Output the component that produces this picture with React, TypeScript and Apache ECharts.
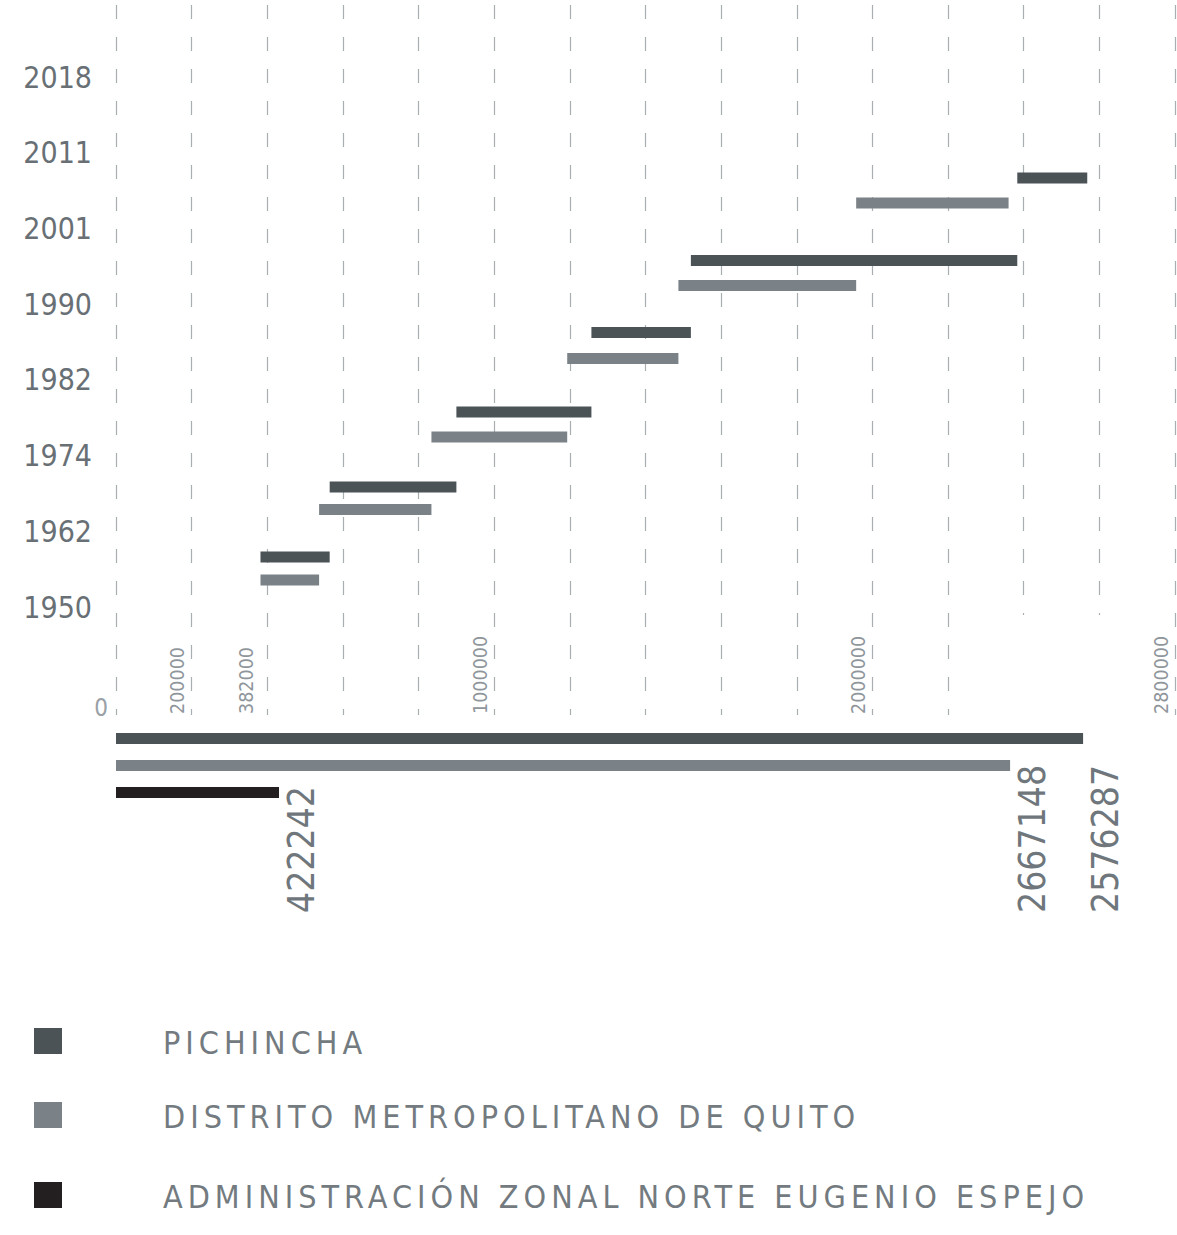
import React, { useEffect, useRef } from 'react';
import * as echarts from 'echarts';

// ---------- data ----------
const YEAR_LABELS = ['1950', '1962', '1974', '1982', '1990', '2001', '2011', '2018'];

// population boundaries of the census intervals
const PICHINCHA_POP = [382000, 565000, 900000, 1257000, 1520000, 2383000, 2568000];
const QUITO_POP = [382000, 537000, 834000, 1193000, 1487000, 1957000, 2360000];

// vertical position of each interval bar on the year-index axis
const PICHINCHA_ROW = [0.66, 1.585, 2.576, 3.626, 4.577, 5.666];
const QUITO_ROW = [0.357, 1.288, 2.245, 3.282, 4.246, 5.336];

const X_MAX = 2800000;
const X_STEP = 200000;
const TICK_LABEL_VALUES = [0, 200000, 382000, 1000000, 2000000, 2800000];

const TOTAL_NAMES = [
  'PICHINCHA',
  'DISTRITO METROPOLITANO DE QUITO',
  'ADMINISTRACIÓN ZONAL NORTE EUGENIO ESPEJO',
];
const TOTAL_VALUES = [2557000, 2364000, 431000];
const TOTAL_LABELS = ['2576287', '2667148', '422242'];

// ---------- style ----------
const COLORS = ['#4b5357', '#7b8287', '#231f20'];
const FONT = '"DejaVu Sans", sans-serif';
const LEGEND_FONT = '"LegendTrack", ' + FONT;
const LEGEND_Y = [1041, 1115, 1195];
const GRID_LEFT = 116;
const GRID_WIDTH = 1059;

const CSS = `
body { margin: 0; }
svg text { font-stretch: condensed; }
svg text[style*="LegendTrack"] { letter-spacing: 5px; }
`;

function dashedColors(keep: (i: number) => boolean) {
  const n = Math.round(X_MAX / X_STEP) + 1;
  const arr: string[] = [];
  for (let i = 0; i < n; i++) arr.push(keep(i) ? '#a9aeb2' : 'rgba(0,0,0,0)');
  return arr;
}

export default function App() {
  const ref = useRef<HTMLDivElement>(null);

  useEffect(() => {
    if (!ref.current) return;
    const chart = echarts.init(ref.current, undefined, { renderer: 'svg' });

    const hiddenX = (gridIndex: number) => ({
      gridIndex,
      type: 'value',
      min: 0,
      max: X_MAX,
      interval: X_STEP,
      show: false,
    });

    const dashedX = (gridIndex: number, keep: (i: number) => boolean) => ({
      gridIndex,
      type: 'value',
      min: 0,
      max: X_MAX,
      interval: X_STEP,
      axisLine: { show: false },
      axisTick: { show: false },
      axisLabel: { show: false },
      splitLine: {
        show: true,
        lineStyle: { color: dashedColors(keep), width: 1.2, type: [14, 18] },
      },
    });

    const rangeSeries = (name: string, pop: number[], rows: number[], color: string) => ({
      name,
      type: 'custom',
      xAxisIndex: 0,
      yAxisIndex: 0,
      encode: { x: [0, 1], y: 2 },
      data: rows.map((r, i) => [pop[i], pop[i + 1], r]),
      renderItem: (params: any, api: any) => {
        const a = api.coord([api.value(0), api.value(2)]);
        const b = api.coord([api.value(1), api.value(2)]);
        return {
          type: 'rect',
          shape: { x: a[0], y: a[1] - 5.5, width: b[0] - a[0], height: 11 },
          style: { fill: color },
        };
      },
    });

    const option: any = {
      animation: false,
      backgroundColor: '#ffffff',
      grid: [
        { left: GRID_LEFT, top: 77, width: GRID_WIDTH, height: 530 },
        { left: GRID_LEFT, top: 5, width: GRID_WIDTH, height: 710 },
        { left: GRID_LEFT, top: 5, width: GRID_WIDTH, height: 610 },
        { left: GRID_LEFT, top: 615, width: GRID_WIDTH, height: 100 },
        { left: GRID_LEFT, top: 725, width: GRID_WIDTH, height: 81 },
      ],
      xAxis: [
        hiddenX(0),
        dashedX(1, (i) => i !== 12 && i !== 13),
        dashedX(2, (i) => i === 12 || i === 13),
        hiddenX(3),
        hiddenX(4),
      ],
      yAxis: [
        {
          gridIndex: 0,
          type: 'value',
          min: 0,
          max: YEAR_LABELS.length - 1,
          interval: 1,
          axisLine: { show: false },
          axisTick: { show: false },
          splitLine: { show: false },
          axisLabel: {
            formatter: (v: number) => YEAR_LABELS[v] ?? '',
            fontSize: 30,
            color: '#687075',
            fontFamily: FONT,
            margin: 24,
          },
        },
        { gridIndex: 1, type: 'value', show: false },
        { gridIndex: 2, type: 'value', show: false },
        { gridIndex: 3, type: 'value', min: 0, max: 1, show: false },
        {
          gridIndex: 4,
          type: 'category',
          inverse: true,
          data: TOTAL_NAMES,
          show: false,
        },
      ],
      series: [
        rangeSeries(TOTAL_NAMES[0], PICHINCHA_POP, PICHINCHA_ROW, COLORS[0]),
        rangeSeries(TOTAL_NAMES[1], QUITO_POP, QUITO_ROW, COLORS[1]),
        {
          name: 'ticks',
          type: 'custom',
          xAxisIndex: 3,
          yAxisIndex: 3,
          data: TICK_LABEL_VALUES.map((v) => [v, 0]),
          renderItem: (params: any, api: any) => {
            const v = api.value(0);
            const p = api.coord([v, 0]);
            if (v === 0) {
              return {
                type: 'text',
                x: p[0] - 8,
                y: p[1] - 7,
                style: {
                  text: String(v),
                  align: 'right',
                  verticalAlign: 'middle',
                  fontSize: 24,
                  fill: '#9aa1a6',
                  fontFamily: FONT,
                },
              };
            }
            return {
              type: 'text',
              x: p[0] - 14,
              y: p[1] - 1,
              rotation: Math.PI / 2,
              style: {
                text: String(v),
                align: 'left',
                verticalAlign: 'middle',
                fontSize: 19.5,
                fill: '#8f969b',
                fontFamily: FONT,
              },
            };
          },
        },
        {
          name: 'totals',
          type: 'custom',
          xAxisIndex: 4,
          yAxisIndex: 4,
          data: TOTAL_VALUES.map((v, i) => [v, i]),
          renderItem: (params: any, api: any) => {
            const i = params.dataIndex;
            const s = api.coord([0, i]);
            const e = api.coord([api.value(0), i]);
            return {
              type: 'group',
              children: [
                {
                  type: 'rect',
                  shape: { x: s[0], y: s[1] - 5.5, width: e[0] - s[0], height: 11 },
                  style: { fill: COLORS[i] },
                },
                {
                  type: 'text',
                  x: e[0] + 22,
                  y: 913,
                  rotation: Math.PI / 2,
                  style: {
                    text: TOTAL_LABELS[i],
                    align: 'left',
                    verticalAlign: 'middle',
                    fontSize: 37,
                    fill: '#6f777c',
                    fontFamily: FONT,
                  },
                },
              ],
            };
          },
        },
      ],
      graphic: TOTAL_NAMES.map((name, i) => ({
        type: 'group',
        children: [
          {
            type: 'rect',
            shape: { x: 34, y: LEGEND_Y[i] - 13, width: 28, height: 26 },
            style: { fill: COLORS[i] },
          },
          {
            type: 'text',
            x: 163,
            y: LEGEND_Y[i] + 2,
            style: {
              text: name,
              align: 'left',
              verticalAlign: 'middle',
              fontSize: 32,
              fill: '#737b80',
              fontFamily: LEGEND_FONT,
            },
          },
        ],
      })),
    };

    chart.setOption(option);
    return () => chart.dispose();
  }, []);

  return (
    <>
      <style>{CSS}</style>
      <div
        ref={ref}
        style={{ position: 'absolute', left: 0, top: 0, width: 1177, height: 1235 }}
      />
    </>
  );
}
